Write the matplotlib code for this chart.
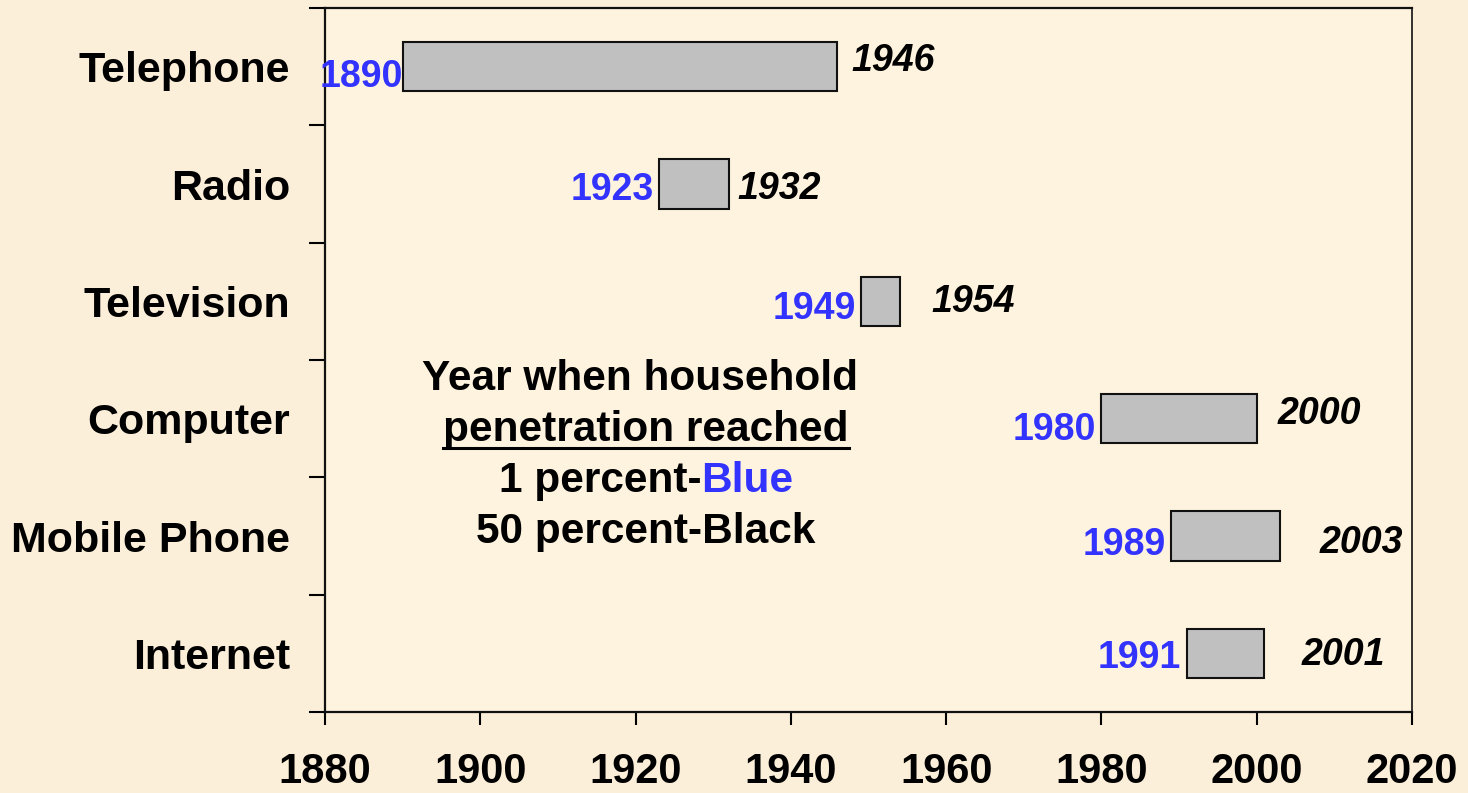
import matplotlib
matplotlib.use("Agg")
import matplotlib.pyplot as plt
from matplotlib.lines import Line2D

plt.rcParams['font.family'] = ['Liberation Sans', 'DejaVu Sans']

# data
products = ["Telephone", "Radio", "Television", "Computer", "Mobile Phone", "Internet"]
year_1pct = [1890, 1923, 1949, 1980, 1989, 1991]
year_50pct = [1946, 1932, 1954, 2000, 2003, 2001]
x_ticks = [1880, 1900, 1920, 1940, 1960, 1980, 2000, 2020]

# label nudges in pixels (x gap, y shift downwards) - layout only
blue_dy = [10, 5.5, 7.5, 11, 9, 4.5]
blue_dx = [0, 5, 5, 5, 5, 6]
black_dx = [14, 9, 32, 21, 40, 37]
black_dy = [-5.5, 5, 1, -4.5, 7, 2]

bg = '#FCEFD9'
ax_bg = '#FEF3DE'
blue = '#3333FF'

fig = plt.figure(figsize=(14.68, 7.93), dpi=100, facecolor=bg)
ax = fig.add_axes([325 / 1468, 81 / 793, 1087 / 1468, 704 / 793], facecolor=ax_bg)

ypos = list(range(len(products)))
widths = [e - s for s, e in zip(year_1pct, year_50pct)]
ax.barh(ypos, widths, left=year_1pct, height=0.42, color='#C0C0C0',
        edgecolor='#111111', linewidth=1.5, zorder=3)

for i in ypos:
    ax.annotate(str(year_1pct[i]), xy=(year_1pct[i], i), xytext=(-blue_dx[i], -blue_dy[i]),
                textcoords='offset pixels', ha='right', va='center',
                fontsize=27, fontweight='bold', color=blue, zorder=4)
    ax.annotate(str(year_50pct[i]), xy=(year_50pct[i], i), xytext=(black_dx[i], -black_dy[i]),
                textcoords='offset pixels', ha='left', va='center',
                fontsize=27, fontweight='bold', fontstyle='italic', color='black', zorder=4)

ax.set_xlim(1880, 2020)
ax.set_ylim(len(products) - 0.5, -0.5)
ax.set_xticks(x_ticks)
ax.set_xticklabels([str(t) for t in x_ticks], fontsize=30, fontweight='bold')
ax.tick_params(axis='x', direction='out', length=9.5, width=1.5, pad=19)

# category boundaries as major ticks, names on minor ticks
ax.set_yticks([i - 0.5 for i in range(len(products) + 1)])
ax.set_yticklabels([])
ax.set_yticks(ypos, minor=True)
ax.set_yticklabels(products, minor=True, fontsize=31, fontweight='bold')
ax.tick_params(axis='y', which='major', direction='out', length=11.5, width=1.5)
ax.tick_params(axis='y', which='minor', length=0, pad=25)

for sp in ax.spines.values():
    sp.set_linewidth(1.6)
    sp.set_color('#111111')
ax.spines['right'].set_linewidth(1.2)

# note text
note_x = 1920.6
note_x2 = 1921.35
base = [2.756, 3.19, 3.625, 4.06]
kw = dict(fontsize=30.5, fontweight='bold', ha='center', va='baseline', zorder=5)
ax.text(note_x, base[0], "Year when household", **kw)
t2 = ax.text(note_x2, base[1], "penetration reached", **kw)
t3a = ax.text(note_x2, base[2], "1 percent-", fontsize=30.5, fontweight='bold', ha='left', va='baseline')
t3b = ax.text(note_x2, base[2], "Blue", fontsize=30.5, fontweight='bold', ha='left', va='baseline', color=blue)
ax.text(note_x2, base[3], "50 percent-Black", **kw)

fig.canvas.draw()
r = fig.canvas.get_renderer()
wa = t3a.get_window_extent(r).width
wb = t3b.get_window_extent(r).width
cx, cy = ax.transData.transform((note_x2, base[2]))
x0 = cx - (wa + wb) / 2
inv = ax.transData.inverted()
t3a.set_x(inv.transform((x0, cy))[0])
t3b.set_x(inv.transform((x0 + wa, cy))[0])

# underline second line
bb = t2.get_window_extent(r)
_, by = ax.transData.transform((note_x2, base[1]))
uy = by - 7
fig.add_artist(Line2D([bb.x0 / 1468, bb.x1 / 1468], [uy / 793, uy / 793],
                      color='black', linewidth=2.2))

fig.savefig("out.png", dpi=100, facecolor=bg)
